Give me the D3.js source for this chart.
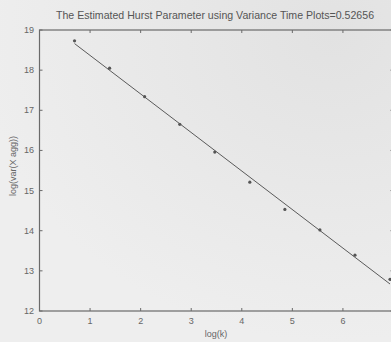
<!DOCTYPE html>
<html><head><meta charset="utf-8">
<script src="https://cdn.jsdelivr.net/npm/d3@7"></script>
<style>html,body{margin:0;padding:0;background:#ebebeb;}svg{display:block;}</style>
</head><body>
<svg id="c" width="391" height="342"></svg>
<script>
const logK = [0.693, 1.386, 2.079, 2.773, 3.466, 4.159, 4.852, 5.545, 6.238, 6.931];
const logVar = [18.73, 18.05, 17.34, 16.65, 15.96, 15.21, 14.53, 14.02, 13.39, 12.79];
const xTicks = [0, 1, 2, 3, 4, 5, 6, 7];
const xTickLabels = ["0", "1", "2", "3", "4", "5", "6"];
const yTicks = [12, 13, 14, 15, 16, 17, 18, 19];
const title = "The Estimated Hurst Parameter using Variance Time Plots=0.52656";

const svg = d3.select("#c");
const defs = svg.append("defs");
const g0 = defs.append("radialGradient").attr("id","bg").attr("cx","85%").attr("cy","10%").attr("r","90%");
g0.append("stop").attr("offset","0%").attr("stop-color","#e2e2e2");
g0.append("stop").attr("offset","100%").attr("stop-color","#eeeeee");
svg.append("rect").attr("width",391).attr("height",342).attr("fill","url(#bg)");

const L = 39.5, R = 393.5, T = 30, B = 311;
const x = d3.scaleLinear().domain([0, 7]).range([L, R]);
const y = d3.scaleLinear().domain([12, 19]).range([B, T]);
const axCol = "#6a6a6a", txtCol = "#666";

svg.append("rect").attr("x", L).attr("y", T).attr("width", R - L).attr("height", B - T)
  .attr("fill", "none").attr("stroke", axCol).attr("stroke-width", 1.2);

const tl = 3;
svg.selectAll(".xt").data(xTicks).join("line")
  .attr("x1", d => x(d)).attr("x2", d => x(d)).attr("y1", B).attr("y2", B - tl)
  .attr("stroke", axCol);
svg.selectAll(".xtt").data(xTicks).join("line")
  .attr("x1", d => x(d)).attr("x2", d => x(d)).attr("y1", T).attr("y2", T + tl)
  .attr("stroke", axCol);
svg.selectAll(".yt").data(yTicks).join("line")
  .attr("x1", L).attr("x2", L + tl).attr("y1", d => y(d)).attr("y2", d => y(d))
  .attr("stroke", axCol);
svg.selectAll(".ytr").data(yTicks).join("line")
  .attr("x1", R).attr("x2", R - tl).attr("y1", d => y(d)).attr("y2", d => y(d))
  .attr("stroke", axCol);

const font = "Liberation Sans, Arial, sans-serif";
svg.selectAll(".xl").data(xTickLabels).join("text")
  .attr("x", d => x(+d)).attr("y", 324).attr("text-anchor", "middle")
  .attr("font-family", font).attr("font-size", 9).attr("fill", txtCol).text(d => d);
svg.selectAll(".yl").data(yTicks).join("text")
  .attr("x", 34).attr("y", d => y(d) + 3).attr("text-anchor", "end")
  .attr("font-family", font).attr("font-size", 9).attr("fill", txtCol).text(d => d);

svg.append("text").attr("x", 215).attr("y", 19).attr("text-anchor", "middle")
  .attr("font-family", font).attr("font-size", 10.6).attr("fill", "#555").text(title);
svg.append("text").attr("x", 216).attr("y", 337).attr("text-anchor", "middle")
  .attr("font-family", font).attr("font-size", 9).attr("fill", txtCol).text("log(k)");
svg.append("text").attr("transform", "translate(16,166) rotate(-90)").attr("text-anchor", "middle")
  .attr("font-family", font).attr("font-size", 9).attr("fill", txtCol).text("log(var(X agg))");

const n = logK.length;
const mx = d3.mean(logK), my = d3.mean(logVar);
let sxy = 0, sxx = 0;
for (let i = 0; i < n; i++) { sxy += (logK[i]-mx)*(logVar[i]-my); sxx += (logK[i]-mx)**2; }
const b = sxy / sxx, a = my - b * mx;
const ends = [logK[0], logK[n-1]];
svg.append("path").datum(ends)
  .attr("d", d3.line().x(d => x(d)).y(d => y(a + b * d)))
  .attr("stroke", "#5a5a5a").attr("stroke-width", 1).attr("fill", "none");

svg.selectAll(".pt").data(logK).join("circle")
  .attr("cx", d => x(d)).attr("cy", (d, i) => y(logVar[i])).attr("r", 1.6)
  .attr("fill", "#555");
</script>
</body></html>
